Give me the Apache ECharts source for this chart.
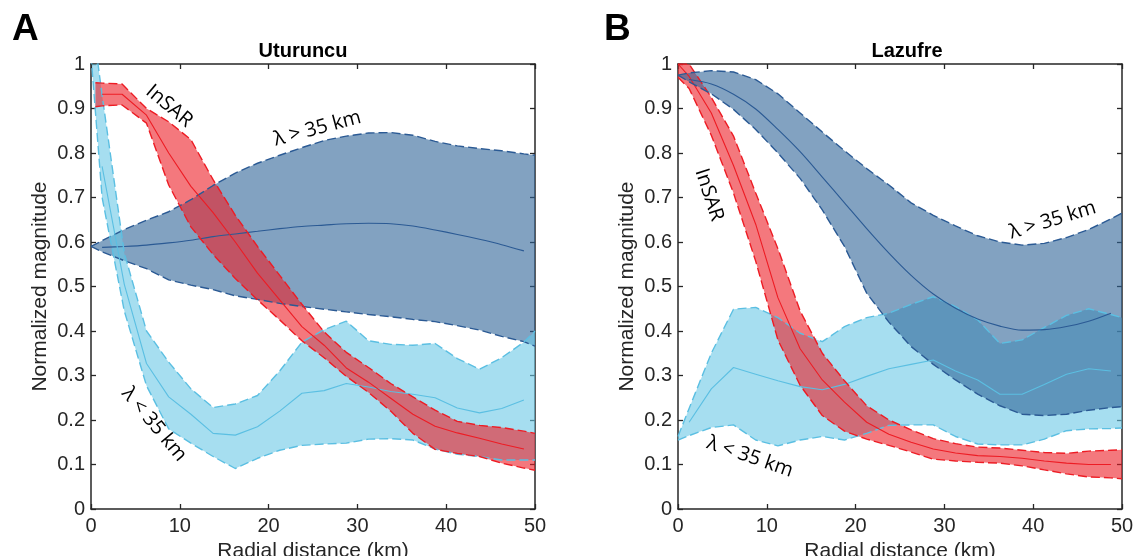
<!DOCTYPE html>
<html><head><meta charset="utf-8">
<script src="https://cdn.jsdelivr.net/npm/echarts/dist/echarts.min.js"></script>
<style>html,body{margin:0;padding:0;background:#fff}#c{width:1133px;height:556px}</style>
</head><body><div id="c"></div><script>
// ---------- DATA ----------
const xTicks = [0, 10, 20, 30, 40, 50];
const yTicks = [0, 0.1, 0.2, 0.3, 0.4, 0.5, 0.6, 0.7, 0.8, 0.9, 1];
const panelTitles = ['Uturuncu', 'Lazufre'];
const panelLetters = ['A', 'B'];

// radial bins (km)
const xGrid = [0, 1.25, 3.75, 6.25, 8.75, 11.25, 13.75, 16.25, 18.75, 21.25, 23.75, 26.25, 28.75, 31.25, 33.75, 36.25, 38.75, 41.25, 43.75, 46.25, 48.75, 50];
const xRedA = [0.5, 1.25, 3.5, 6.25, 8.75, 11.25, 13.75, 16.25, 18.75, 21.25, 23.75, 26.25, 28.75, 31.25, 33.75, 36.25, 38.75, 41.25, 43.75, 46.25, 48.75, 50];

// Panel A — Uturuncu
const A_long_upper = [0.59, 0.603, 0.628, 0.649, 0.668, 0.695, 0.727, 0.755, 0.777, 0.795, 0.812, 0.828, 0.838, 0.845, 0.846, 0.84, 0.826, 0.816, 0.81, 0.805, 0.798, 0.795];
const A_long_mean  = [null, 0.588, 0.59, 0.593, 0.598, 0.604, 0.612, 0.618, 0.624, 0.63, 0.635, 0.638, 0.641, 0.642, 0.641, 0.636, 0.627, 0.617, 0.606, 0.594, 0.58, null];
const A_long_lower = [0.59, 0.578, 0.558, 0.54, 0.515, 0.503, 0.493, 0.479, 0.471, 0.462, 0.455, 0.449, 0.443, 0.437, 0.432, 0.426, 0.421, 0.412, 0.402, 0.388, 0.376, 0.366];

const A_short_upper = [1.12, 0.93, 0.575, 0.4, 0.33, 0.27, 0.228, 0.236, 0.255, 0.31, 0.375, 0.403, 0.422, 0.378, 0.37, 0.368, 0.372, 0.338, 0.314, 0.34, 0.375, 0.4];
const A_short_mean  = [null, 0.77, 0.505, 0.327, 0.252, 0.213, 0.17, 0.166, 0.185, 0.22, 0.26, 0.266, 0.282, 0.274, 0.264, 0.258, 0.25, 0.227, 0.216, 0.226, 0.245, null];
const A_short_lower = [1.02, 0.7, 0.445, 0.277, 0.18, 0.148, 0.118, 0.091, 0.114, 0.132, 0.143, 0.146, 0.148, 0.157, 0.158, 0.155, 0.135, 0.123, 0.118, 0.11, 0.11, 0.11];

const A_insar_upper = [0.958, 0.957, 0.955, 0.9, 0.87, 0.83, 0.74, 0.66, 0.59, 0.525, 0.46, 0.398, 0.352, 0.318, 0.282, 0.252, 0.222, 0.197, 0.188, 0.183, 0.175, 0.17];
const A_insar_mean  = [null, 0.932, 0.932, 0.885, 0.8, 0.725, 0.666, 0.6, 0.53, 0.47, 0.41, 0.368, 0.317, 0.285, 0.249, 0.213, 0.186, 0.171, 0.159, 0.146, 0.135, null];
const A_insar_lower = [0.904, 0.906, 0.908, 0.867, 0.728, 0.634, 0.572, 0.518, 0.47, 0.425, 0.378, 0.34, 0.298, 0.262, 0.22, 0.17, 0.134, 0.125, 0.118, 0.103, 0.092, 0.087];

// Panel B — Lazufre
const B_long_upper = [0.975, 0.98, 0.985, 0.982, 0.965, 0.933, 0.89, 0.847, 0.805, 0.765, 0.728, 0.688, 0.66, 0.636, 0.614, 0.6, 0.593, 0.597, 0.61, 0.628, 0.652, 0.665];
const B_long_mean  = [null, 0.965, 0.955, 0.932, 0.899, 0.853, 0.803, 0.746, 0.688, 0.63, 0.575, 0.525, 0.483, 0.451, 0.427, 0.411, 0.402, 0.403, 0.41, 0.422, 0.44, null];
const B_long_lower = [0.975, 0.96, 0.933, 0.898, 0.853, 0.8, 0.743, 0.672, 0.59, 0.485, 0.42, 0.365, 0.325, 0.29, 0.258, 0.232, 0.213, 0.21, 0.213, 0.222, 0.228, 0.23];

const B_short_upper = [0.163, 0.226, 0.35, 0.449, 0.453, 0.43, 0.395, 0.376, 0.41, 0.43, 0.44, 0.46, 0.477, 0.455, 0.425, 0.372, 0.38, 0.408, 0.435, 0.45, 0.437, 0.43];
const B_short_mean  = [null, 0.195, 0.27, 0.318, 0.303, 0.288, 0.275, 0.268, 0.28, 0.298, 0.315, 0.325, 0.335, 0.31, 0.29, 0.258, 0.258, 0.28, 0.303, 0.315, 0.31, null];
const B_short_lower = [0.155, 0.165, 0.183, 0.189, 0.155, 0.142, 0.155, 0.163, 0.155, 0.17, 0.188, 0.189, 0.189, 0.163, 0.146, 0.144, 0.144, 0.157, 0.176, 0.18, 0.181, 0.182];

const B_insar_upper = [1.0, 1.0, 0.925, 0.838, 0.71, 0.585, 0.445, 0.35, 0.288, 0.232, 0.2, 0.178, 0.158, 0.147, 0.139, 0.137, 0.132, 0.127, 0.125, 0.13, 0.132, 0.133];
const B_insar_mean  = [1.0, 0.972, 0.89, 0.772, 0.64, 0.475, 0.36, 0.29, 0.24, 0.195, 0.168, 0.15, 0.135, 0.126, 0.12, 0.118, 0.114, 0.108, 0.103, 0.1, 0.1, null];
const B_insar_lower = [0.97, 0.945, 0.84, 0.71, 0.557, 0.38, 0.278, 0.21, 0.175, 0.157, 0.143, 0.128, 0.112, 0.108, 0.105, 0.103, 0.097, 0.088, 0.079, 0.072, 0.07, 0.068];

// annotation labels (data coordinates)
const annotations = [
  {panel: 0, text: 'InSAR', x: 8.8, y: 0.905, rot: -40},
  {panel: 0, text: 'λ > 35 km', x: 25.5, y: 0.855, rot: 15},
  {panel: 0, text: 'λ < 35 km', x: 7.1, y: 0.19, rot: -50},
  {panel: 1, text: 'InSAR', x: 3.5, y: 0.706, rot: -72},
  {panel: 1, text: 'λ > 35 km', x: 42.2, y: 0.649, rot: 17},
  {panel: 1, text: 'λ < 35 km', x: 8.1, y: 0.117, rot: -19}
];

// ---------- STYLE ----------
const COL = {
  long:  {fill: 'rgb(47,100,152)',  line: '#2b5a94'},
  short: {fill: 'rgb(107,200,230)', line: '#5bbfe2'},
  insar: {fill: 'rgb(237,30,38)',   line: '#ed1c24'}
};
const AX = '#262626';
const FONT = '"Liberation Sans", Arial, Helvetica, sans-serif';
const grids = [
  {left: 91, top: 64, width: 444, height: 445, outerBoundsMode: 'none', containLabel: false},
  {left: 678, top: 64, width: 444, height: 445, outerBoundsMode: 'none', containLabel: false}
];
const titleCenters = [298, 902];

function pairs(xs, ys) { return xs.map((x, i) => [x, ys[i]]); }

function band(panel, kind, xs, up, mean, lo) {
  const xi = panel * 2, yi = panel * 2;
  const c = COL[kind];
  const out = [];
  out.push({
    type: 'custom', xAxisIndex: xi, yAxisIndex: yi, silent: true,
    data: [[xs[0], up[0]]],
    renderItem: function (params, api) {
      const pts = [];
      for (let i = 0; i < xs.length; i++) if (up[i] != null) pts.push(api.coord([xs[i], up[i]]));
      for (let i = xs.length - 1; i >= 0; i--) if (lo[i] != null) pts.push(api.coord([xs[i], lo[i]]));
      const cs = params.coordSys;
      return {
        type: 'group',
        clipPath: {type: 'rect', shape: {x: cs.x, y: cs.y, width: cs.width, height: cs.height}},
        children: [{type: 'polygon', shape: {points: pts}, style: {fill: c.fill, opacity: 0.6, stroke: null}}]
      };
    }
  });
  const lineBase = {type: 'line', xAxisIndex: xi, yAxisIndex: yi, symbol: 'none', showSymbol: false,
    silent: true, clip: true, connectNulls: false, emphasis: {disabled: true}};
  out.push(Object.assign({}, lineBase, {data: pairs(xs, up), lineStyle: {color: c.line, width: 1.4, type: [9, 4]}}));
  out.push(Object.assign({}, lineBase, {data: pairs(xs, lo), lineStyle: {color: c.line, width: 1.4, type: [9, 4]}}));
  out.push(Object.assign({}, lineBase, {data: pairs(xs, mean), smooth: kind === 'long' ? 0.3 : false,
    lineStyle: {color: c.line, width: 1.1, type: 'solid'}}));
  return out;
}

const xAxes = [], yAxes = [];
for (let g = 0; g < 2; g++) {
  xAxes.push({
    type: 'value', gridIndex: g, position: 'bottom', min: xTicks[0], max: xTicks[xTicks.length - 1], interval: 10,
    name: 'Radial distance (km)', nameLocation: 'middle', nameGap: 26,
    nameTextStyle: {fontFamily: FONT, fontSize: 21, color: AX},
    axisLine: {show: true, onZero: false, lineStyle: {color: AX, width: 1.5}},
    axisTick: {show: true, inside: true, length: 5, lineStyle: {color: AX, width: 1.3}},
    axisLabel: {show: true, margin: 7, fontFamily: FONT, fontSize: 20, color: AX},
    splitLine: {show: false}
  });
  xAxes.push({
    type: 'value', gridIndex: g, position: 'top', min: xTicks[0], max: xTicks[xTicks.length - 1], interval: 10,
    axisLine: {show: true, onZero: false, lineStyle: {color: AX, width: 1.5}},
    axisTick: {show: true, inside: true, length: 5, lineStyle: {color: AX, width: 1.3}},
    axisLabel: {show: false}, splitLine: {show: false}
  });
  yAxes.push({
    type: 'value', gridIndex: g, position: 'left', min: yTicks[0], max: yTicks[yTicks.length - 1], interval: 0.1,
    name: 'Normalized magnitude', nameLocation: 'middle', nameGap: 40,
    nameTextStyle: {fontFamily: FONT, fontSize: 21, color: AX},
    axisLine: {show: true, onZero: false, lineStyle: {color: AX, width: 1.5}},
    axisTick: {show: true, inside: true, length: 5, lineStyle: {color: AX, width: 1.3}},
    axisLabel: {show: true, margin: 6, fontFamily: FONT, fontSize: 20, color: AX,
      formatter: v => String(Math.round(v * 10) / 10)},
    splitLine: {show: false}
  });
  yAxes.push({
    type: 'value', gridIndex: g, position: 'right', min: yTicks[0], max: yTicks[yTicks.length - 1], interval: 0.1,
    axisLine: {show: true, onZero: false, lineStyle: {color: AX, width: 1.5}},
    axisTick: {show: true, inside: true, length: 5, lineStyle: {color: AX, width: 1.3}},
    axisLabel: {show: false}, splitLine: {show: false}
  });
}

const series = [].concat(
  band(0, 'long', xGrid, A_long_upper, A_long_mean, A_long_lower),
  band(0, 'short', xGrid, A_short_upper, A_short_mean, A_short_lower),
  band(0, 'insar', xRedA, A_insar_upper, A_insar_mean, A_insar_lower),
  band(1, 'short', xGrid, B_short_upper, B_short_mean, B_short_lower),
  band(1, 'insar', xGrid, B_insar_upper, B_insar_mean, B_insar_lower),
  band(1, 'long', xGrid, B_long_upper, B_long_mean, B_long_lower)
);

const option = {
  animation: false,
  backgroundColor: '#fff',
  title: panelTitles.map((t, g) => ({
    text: t, left: titleCenters[g], top: 36, textAlign: 'center',
    textStyle: {fontFamily: FONT, fontWeight: 'bold', fontSize: 20, color: '#000'}
  })),
  grid: grids,
  xAxis: xAxes,
  yAxis: yAxes,
  series: series
};

const chart = echarts.init(document.getElementById('c'), null, {renderer: 'canvas'});
chart.setOption(option);

const gfx = [];
panelLetters.forEach((L, g) => {
  gfx.push({type: 'text', left: g === 0 ? 12 : 604, top: 11,
    style: {text: L, font: 'bold 37px ' + FONT, fill: '#000'}});
});
annotations.forEach(a => {
  const p = chart.convertToPixel({xAxisIndex: a.panel * 2, yAxisIndex: a.panel * 2}, [a.x, a.y]);
  gfx.push({type: 'text', x: p[0], y: p[1], rotation: a.rot * Math.PI / 180,
    style: {text: a.text, font: '20px "Open Sans", sans-serif', fill: '#000',
      align: 'center', verticalAlign: 'middle', textAlign: 'center', textVerticalAlign: 'middle'}});
});
chart.setOption({graphic: gfx});
</script></body></html>
